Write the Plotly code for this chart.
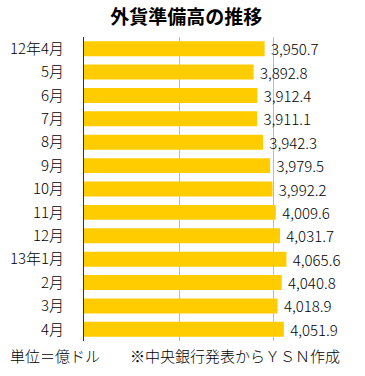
import plotly.graph_objects as go

categories = ["12年4月", "5月", "6月", "7月", "8月", "9月", "10月", "11月", "12月",
              "13年1月", "2月", "3月", "4月"]
values = [3950.7, 3892.8, 3912.4, 3911.1, 3942.3, 3979.5, 3992.2, 4009.6,
          4031.7, 4065.6, 4040.8, 4018.9, 4051.9]
labels = ["3,950.7", "3,892.8", "3,912.4", "3,911.1", "3,942.3", "3,979.5", "3,992.2",
          "4,009.6", "4,031.7", "4,065.6", "4,040.8", "4,018.9", "4,051.9"]

FONT = "Noto Sans CJK JP"

fig = go.Figure(go.Bar(
    x=values, y=categories, orientation="h",
    marker=dict(color="#FFCC00", line=dict(width=0)),
    text=labels, texttemplate=" %{text}", textposition="outside",
    cliponaxis=False, constraintext="none",
    textfont=dict(family=FONT, size=15, color="#000000", weight=300),
    hoverinfo="skip",
))

fig.update_layout(
    width=365, height=376,
    margin=dict(l=84, r=0, t=37, b=35, autoexpand=False),
    paper_bgcolor="white", plot_bgcolor="white",
    bargap=0.36, showlegend=False,
    font=dict(family=FONT, color="#000000"),
    title=dict(text="<b>外貨準備高の推移</b>", x=0.51, xanchor="center",
               y=0.955, yanchor="middle", font=dict(family=FONT, size=19, color="#000000")),
    xaxis=dict(range=[3000, 4479], tick0=3000, dtick=500, showgrid=True,
               gridcolor="#bbbbbb", gridwidth=1, showticklabels=False,
               zeroline=False, showline=False, fixedrange=True, automargin=False),
    yaxis=dict(autorange="reversed", showline=True, linecolor="#333333", linewidth=1,
               ticks="", ticklabelstandoff=16, automargin=False,
               tickfont=dict(family=FONT, size=15, color="#000000", weight=300),
               showgrid=False, fixedrange=True),
    annotations=[
        dict(text="単位＝億ドル", x=8, y=355, xref="paper", yref="paper", showarrow=False),
        dict(text="※中央銀行発表からＹＳＮ作成", x=128, y=355, xref="paper", yref="paper", showarrow=False),
    ],
)

# convert pixel coords of annotations into paper coords
pw = 365 - 84
ph = 376 - 37 - 35
for a in fig.layout.annotations:
    px, py = a.x, a.y
    a.x = (px - 84) / pw
    a.y = (376 - 35 - py) / ph
    a.xanchor = "left"
    a.yanchor = "middle"
    a.font = dict(family=FONT, size=15, color="#000000", weight=300)

fig.write_html("out.html", config={"displayModeBar": False},
               post_script="document.body.style.margin='0';document.body.style.overflow='hidden';")
